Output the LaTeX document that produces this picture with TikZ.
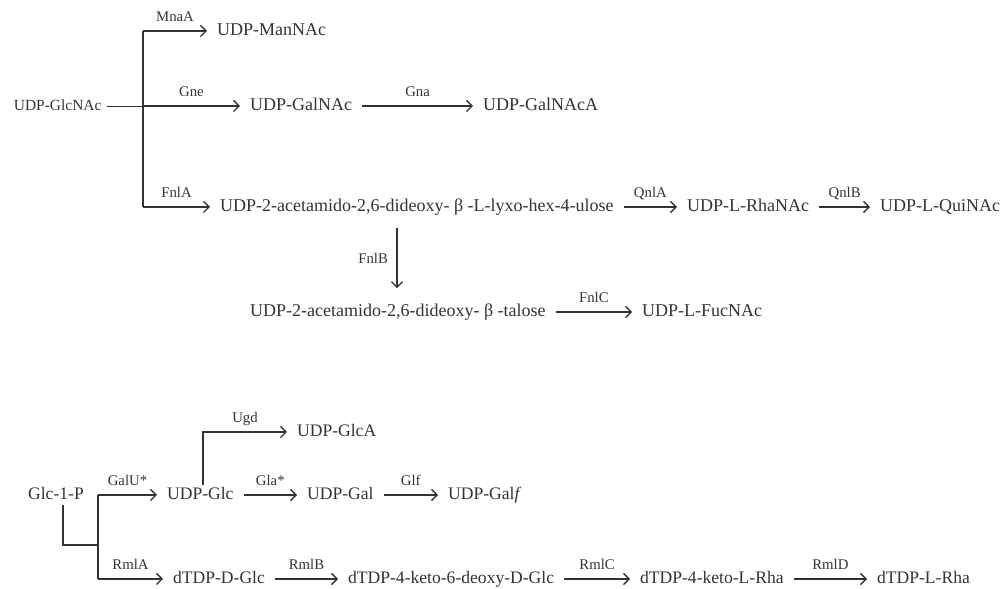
\documentclass[tikz,border=0pt]{standalone}
\usepackage{fontspec}
\setmainfont{Liberation Serif}
\usetikzlibrary{arrows.meta}

\begin{document}
\begin{tikzpicture}[x=0.025cm,y=-0.025cm,
chem/.style={anchor=west,inner xsep=7pt,inner ysep=1pt,text height=9pt,text depth=2.5pt,font=\fontsize{12.8}{15}\selectfont,text=black!80},
chemb/.style={chem,font=\fontsize{12.5}{15}\selectfont},
enz/.style={inner sep=1pt,text height=7pt,text depth=2pt,font=\fontsize{10.5}{12}\selectfont,text=black!80},
arrow/.style={-{Straight Barb[length=4pt,width=8pt]},line width=0.9pt,black!80},
line/.style={line width=0.8pt,black!80}]
\useasboundingbox (0,0) rectangle (1002,589);

% UDP-GlcNAc pathways
\node[chem,inner xsep=4pt,font=\fontsize{11}{13}\selectfont] (glcnac) at (8,106) {UDP-GlcNAc};
\coordinate (tm) at (143,31);
\coordinate (tg) at (143,106);
\coordinate (tf) at (143,207);
\node[chem] (manac) at (207,31) {UDP-ManNAc};
\node[chem] (galnac) at (240,106) {UDP-GalNAc};
\node[chem] (galnaca) at (473,106) {UDP-GalNAcA};
\node[chem] (ulose) at (210,207) {UDP-2-acetamido-2,6-dideoxy- β -L-lyxo-hex-4-ulose};
\node[chem] (rhanac) at (677,207) {UDP-L-RhaNAc};
\node[chem] (quinac) at (870,207) {UDP-L-QuiNAc};
\node[chem] (talose) at (240,312) {UDP-2-acetamido-2,6-dideoxy- β -talose};
\node[chem] (fucnac) at (632,312) {UDP-L-FucNAc};
\coordinate (fb) at (397,0);
\draw[line,line width=0.5pt] (glcnac) -- (tg);
\draw[line] (tm) -- (tf);
\draw[arrow] (tm) -- node[enz,above=3pt] (mnaa) {MnaA} (manac);
\draw[arrow] (tg) -- node[enz,above=3pt] (gne) {Gne} (galnac);
\draw[arrow] (galnac) -- node[enz,above=3pt] (gna) {Gna} (galnaca);
\draw[arrow] (tf) -- node[enz,above=3pt] (fnla) {FnlA} (ulose);
\draw[arrow] (ulose) -- node[enz,above=3pt] (qnla) {QnlA} (rhanac);
\draw[arrow] (rhanac) -- node[enz,above=3pt] (qnlb) {QnlB} (quinac);
\draw[arrow,shorten <=8pt,shorten >=10pt] (ulose.south -| fb) -- node[enz,left=5pt] (fnlb) {FnlB} (talose.north -| fb);
\draw[arrow] (talose) -- node[enz,above=3pt] (fnlc) {FnlC} (fucnac);

% Glc-1-P pathways
\node[chemb] (glc1p) at (18,495) {Glc-1-P};
\coordinate (gx) at (63,0);
\coordinate (jn) at (98,545);
\coordinate (tgu) at (98,495);
\coordinate (tra) at (98,579);
\coordinate (ug) at (203,0);
\node[chemb] (udpglc) at (157,495) {UDP-Glc};
\node[chemb] (glca) at (287,432) {UDP-GlcA};
\node[chemb] (udpgal) at (297,495) {UDP-Gal};
\node[chemb] (galf) at (438,495) {UDP-Gal\textit{f}};
\node[chemb] (dtdpglc) at (163,579) {dTDP-D-Glc};
\node[chemb] (keto6) at (338,579) {dTDP-4-keto-6-deoxy-D-Glc};
\node[chemb] (ketorha) at (630,579) {dTDP-4-keto-L-Rha};
\node[chemb] (rha) at (867,579) {dTDP-L-Rha};
\draw[line] (glc1p.south -| gx) |- (jn);
\draw[line] (tgu) -- (tra);
\draw[arrow] (tgu) -- node[enz,above=3pt] (galu) {GalU*} (udpglc);
\draw[arrow] (udpglc.north -| ug) |- node[enz,above=3pt,pos=0.75] (ugd) {Ugd} (glca);
\draw[arrow] (udpglc) -- node[enz,above=3pt] (gla) {Gla*} (udpgal);
\draw[arrow] (udpgal) -- node[enz,above=3pt] (glf) {Glf} (galf);
\draw[arrow] (tra) -- node[enz,above=3pt] (rmla) {RmlA} (dtdpglc);
\draw[arrow] (dtdpglc) -- node[enz,above=3pt] (rmlb) {RmlB} (keto6);
\draw[arrow] (keto6) -- node[enz,above=3pt] (rmlc) {RmlC} (ketorha);
\draw[arrow] (ketorha) -- node[enz,above=3pt] (rmld) {RmlD} (rha);
\end{tikzpicture}
\end{document}
